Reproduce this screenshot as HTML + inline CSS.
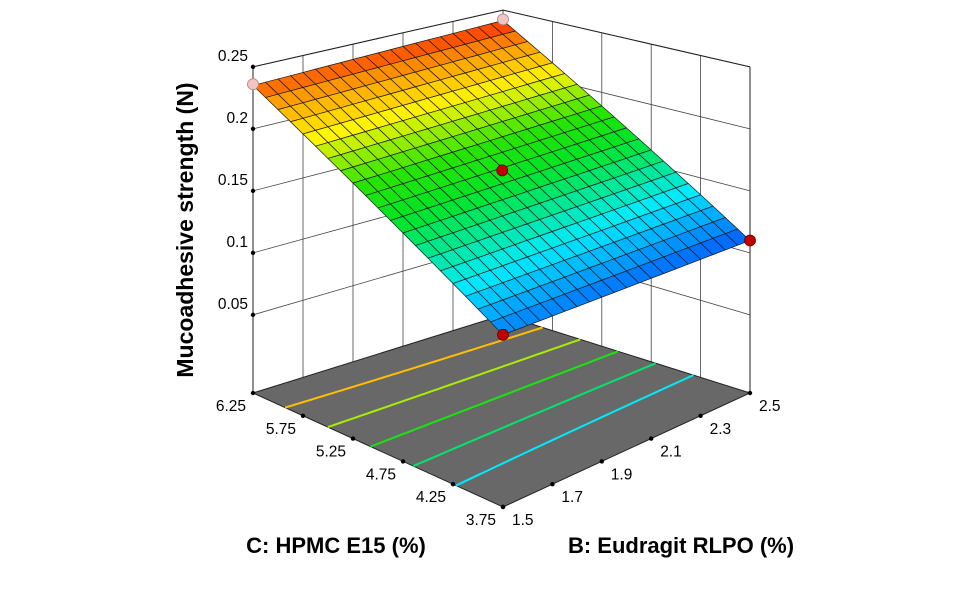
<!DOCTYPE html>
<html><head><meta charset="utf-8"><style>
html,body{margin:0;padding:0;background:#fff;}
svg{display:block;font-family:"Liberation Sans",sans-serif;}
</style></head><body>
<svg id="chart" width="962" height="599" viewBox="0 0 962 599">
<g id="walls"></g>
<g id="floor"></g>
<g id="surf"></g>
<g id="pts"></g>
<g id="labels"></g>
<text x="0" y="0" transform="translate(193,230) rotate(-90)" text-anchor="middle" font-size="23" font-weight="bold" fill="#000">Mucoadhesive strength (N)</text>
<text x="336" y="553" text-anchor="middle" font-size="22" font-weight="bold" fill="#000">C: HPMC E15 (%)</text>
<text x="681" y="553" text-anchor="middle" font-size="22" font-weight="bold" fill="#000">B: Eudragit RLPO (%)</text>
</svg>
<script>
// Data
const bTicks = [1.5, 1.7, 1.9, 2.1, 2.3, 2.5];
const bLabels = ["1.5","1.7","1.9","2.1","2.3","2.5"];
const cTicks = [3.75, 4.25, 4.75, 5.25, 5.75, 6.25];
const cLabels = ["3.75","4.25","4.75","5.25","5.75","6.25"];
const zTicks = [0.05, 0.10, 0.15, 0.20, 0.25];
const zLabels = ["0.05","0.1","0.15","0.2","0.25"];
// model coefficients (coded): intercept, B, C, BC
const coefs = [0.176, -0.0005, 0.062, 0.0035];
const contourLevels = [0.14, 0.16, 0.18, 0.20, 0.22];
const designB = [1.5, 2.5, 2.0, 1.5, 2.5];
const designC = [3.75, 3.75, 5.0, 6.25, 6.25];
const designZ = [0.118, 0.110, 0.174, 0.236, 0.242];
const designAbove = [false, false, false, true, true];

const NS='http://www.w3.org/2000/svg';
const B0=1.5,B1=2.5,C0=3.75,C1=6.25,ZF=-0.013,ZT=0.25,ZS=1240;
const FL={f:[503,507],l:[253,393],r:[750,393],k:[503,315]};
const SF={f:1.06,l:1.0,r:1.0,k:0.935};
function proj(b,c,z){
  const u=(b-B0)/(B1-B0), v=(c-C0)/(C1-C0);
  const w=[(1-u)*(1-v),u*(1-v),(1-u)*v,u*v];
  const x=FL.f[0]*w[0]+FL.r[0]*w[1]+FL.l[0]*w[2]+FL.k[0]*w[3];
  const y=FL.f[1]*w[0]+FL.r[1]*w[1]+FL.l[1]*w[2]+FL.k[1]*w[3];
  const s=SF.f*w[0]+SF.r*w[1]+SF.l*w[2]+SF.k*w[3];
  return [x, y-(z-ZF)*ZS*s];
}
function model(b,c){
  const x=2*(b-B0)/(B1-B0)-1, y=2*(c-C0)/(C1-C0)-1;
  return coefs[0]+coefs[1]*x+coefs[2]*y+coefs[3]*x*y;
}
const ZMIN=0.110, ZMAX=0.242;
const stops=[[0,[0,90,255]],[0.22,[0,235,255]],[0.45,[0,228,40]],[0.58,[40,228,0]],[0.75,[255,245,0]],[0.88,[255,160,0]],[1,[255,40,0]]];
function cmap(z){
  let t=Math.max(0,Math.min(1,(z-ZMIN)/(ZMAX-ZMIN)));
  for(let i=1;i<stops.length;i++){ if(t<=stops[i][0]){const a=stops[i-1],bb=stops[i];const f=(t-a[0])/(bb[0]-a[0]);
    const c=a[1].map((v,k)=>Math.round(v+(bb[1][k]-v)*f));return `rgb(${c[0]},${c[1]},${c[2]})`;}}
  return 'rgb(255,40,0)';
}
function el(tag,attrs,parent){const e=document.createElementNS(NS,tag);for(const k in attrs)e.setAttribute(k,attrs[k]);parent.appendChild(e);return e;}
function line(p,q,parent,st,w){return el('line',{x1:p[0],y1:p[1],x2:q[0],y2:q[1],stroke:st,'stroke-width':w},parent);}

// walls
const W=document.getElementById('walls');
bTicks.forEach(b=>{const e=line(proj(b,C1,ZF),proj(b,C1,ZT),W,'#444',0.8);

});
cTicks.forEach(c=>{const e=line(proj(B1,c,ZF),proj(B1,c,ZT),W,'#444',0.8);

});
zTicks.forEach(z=>{const e1=line(proj(B0,C1,z),proj(B1,C1,z),W,'#444',0.8);


const e2=line(proj(B1,C1,z),proj(B1,C0,z),W,'#444',0.8);

});
line(proj(B0,C1,ZF),proj(B0,C1,ZT),W,'#222',1);
line(proj(B1,C0,ZF),proj(B1,C0,ZT),W,'#222',1);

// floor
const F=document.getElementById('floor');
const fc=[proj(B0,C0,ZF),proj(B1,C0,ZF),proj(B1,C1,ZF),proj(B0,C1,ZF)];
const fp=el('polygon',{points:fc.map(p=>p.join(',')).join(' '),fill:'#686868',stroke:'#222','stroke-width':1},F);


contourLevels.forEach(L=>{
  const pts=[];
  for(let i=0;i<=60;i++){const b=B0+(B1-B0)*i/60;const x=2*(b-B0)/(B1-B0)-1;
    const y=(L-coefs[0]-coefs[1]*x)/(coefs[2]+coefs[3]*x);
    if(y>=-1&&y<=1){const c=C0+(y+1)/2*(C1-C0);pts.push(proj(b,c,ZF));}}
  const pl=el('polyline',{points:pts.map(p=>p.join(',')).join(' '),fill:'none',stroke:cmap(L),'stroke-width':2},F);
  
  
});
cTicks.forEach(c=>{const p=proj(B0,c,ZF);const d=el('circle',{cx:p[0],cy:p[1],r:2.2,fill:'#000'},F);

});
bTicks.forEach(b=>{const p=proj(b,C0,ZF);const d=el('circle',{cx:p[0],cy:p[1],r:2.2,fill:'#000'},F);

});
zTicks.forEach(z=>{const p=proj(B0,C1,z);const d=el('circle',{cx:p[0],cy:p[1],r:2.2,fill:'#000'},F);

});

// surface
const S=document.getElementById('surf');
const N=20;const cells=[];
for(let i=0;i<N;i++)for(let j=0;j<N;j++){
  const b0=B0+(B1-B0)*i/N,b1=B0+(B1-B0)*(i+1)/N,c0=C0+(C1-C0)*j/N,c1=C0+(C1-C0)*(j+1)/N;
  cells.push({i,j,b0,b1,c0,c1});
}
cells.sort((a,b)=>(b.i+b.j)-(a.i+a.j));
cells.forEach(q=>{
  const corners=[[q.b0,q.c0],[q.b1,q.c0],[q.b1,q.c1],[q.b0,q.c1]];
  const pts=corners.map(([b,c])=>proj(b,c,model(b,c)));
  const zc=model((q.b0+q.b1)/2,(q.c0+q.c1)/2);
  const pg=el('polygon',{points:pts.map(p=>p.join(',')).join(' '),fill:cmap(zc),stroke:'#1a1a1a','stroke-width':0.7,'stroke-linejoin':'round'},S);
  
  
});
// box top edges
line(proj(B0,C1,ZT),proj(B1,C1,ZT),W,'#222',1);
line(proj(B1,C1,ZT),proj(B1,C0,ZT),W,'#222',1);

// design points
const P=document.getElementById('pts');
designB.forEach((b,k)=>{const p=proj(b,designC[k],designZ[k]);
  const c=el('circle',{cx:p[0],cy:p[1],r:5.5,fill:designAbove[k]?'#f2c4c4':'#c00000',stroke:designAbove[k]?'#b08080':'#600',"stroke-width":0.8},P);
  
  });

// labels
const LB=document.getElementById('labels');
function txt(s,x,y,anchor,name){const t=el('text',{x:x,y:y,'text-anchor':anchor,'font-size':15.5,fill:'#000'},LB);t.textContent=s;
  
  return t;}
zTicks.forEach((z,k)=>{const p=proj(B0,C1,z);txt(zLabels[k],p[0]-5,p[1]-6,'end','z-tick-label');});
cTicks.forEach((c,k)=>{const p=proj(B0,c,ZF);txt(cLabels[k],p[0]-7,p[1]+18,'end','c-tick-label');});
bTicks.forEach((b,k)=>{const p=proj(b,C0,ZF);txt(bLabels[k],p[0]+9,p[1]+18,'start','b-tick-label');});
</script>
</body></html>
